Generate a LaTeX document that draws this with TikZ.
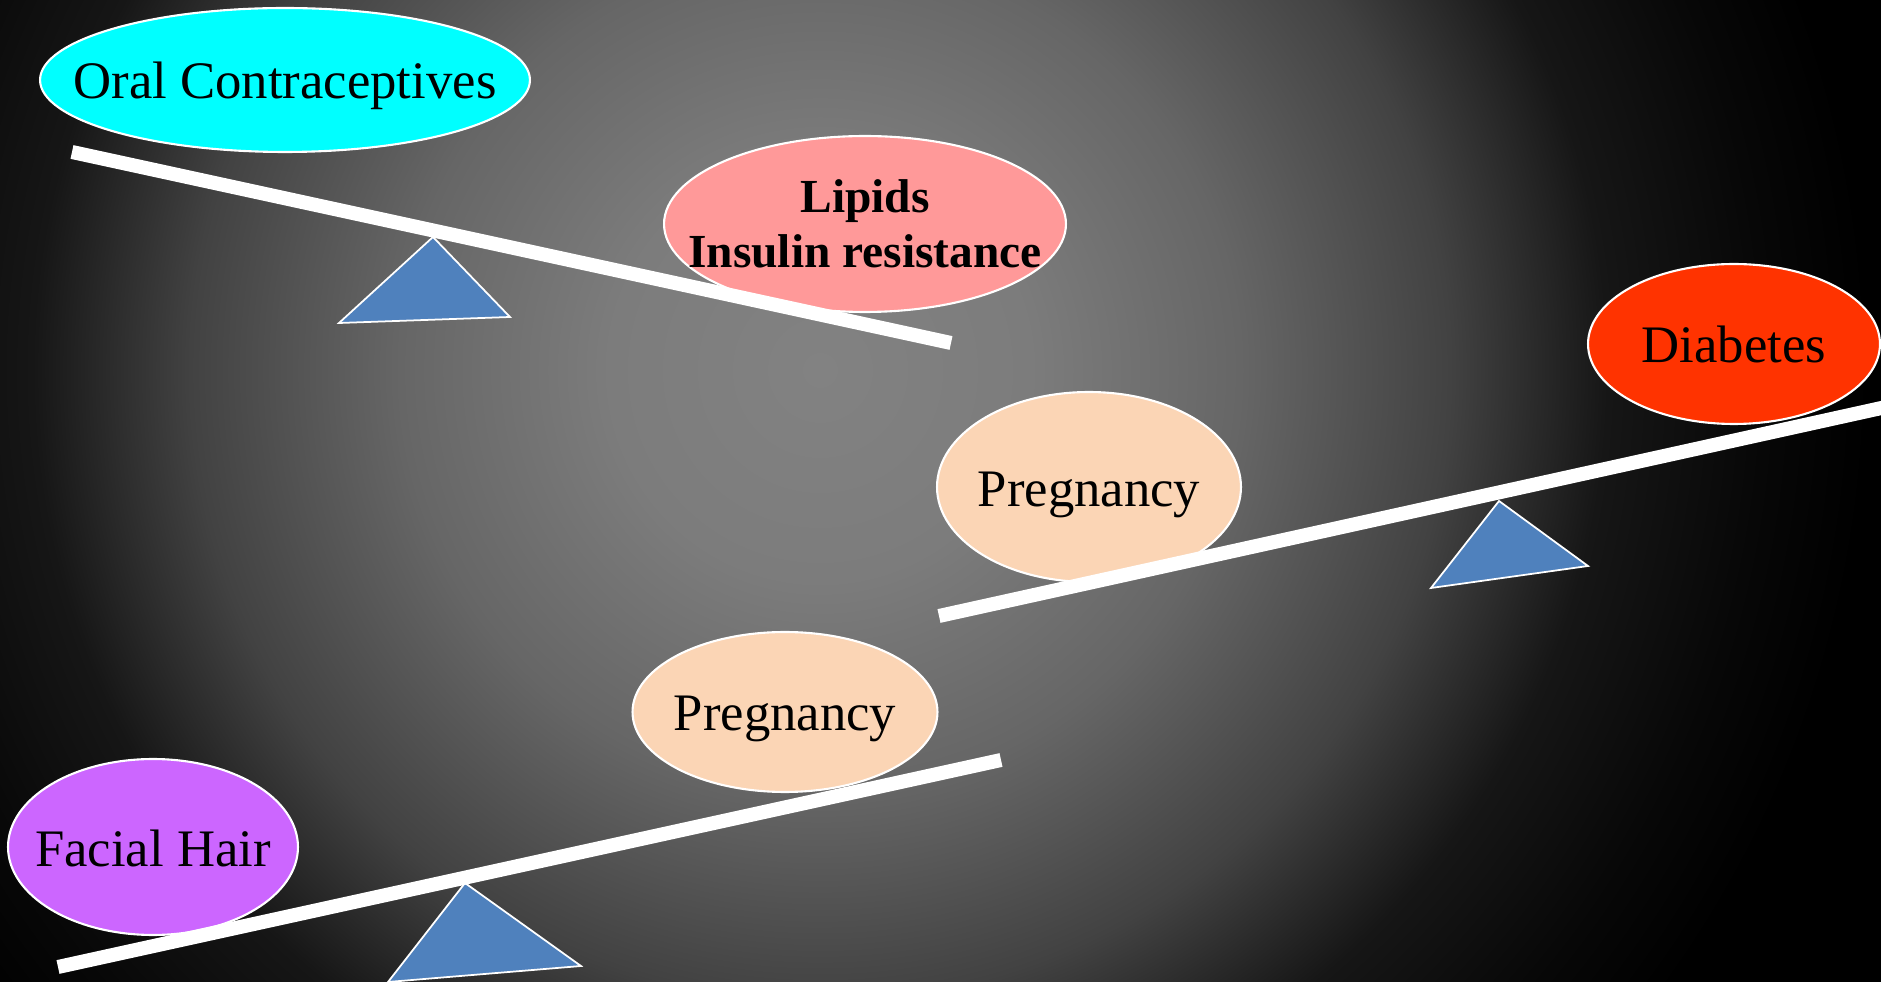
\documentclass[tikz,border=0pt]{standalone}
\usepackage{fontspec}
\setmainfont{Liberation Serif}
\usetikzlibrary{shapes.geometric}
\usetikzlibrary{calc}

\definecolor{bg0}{RGB}{130,130,130}
\definecolor{bg1}{RGB}{124,124,124}
\definecolor{bg2}{RGB}{102,102,102}
\definecolor{bg3}{RGB}{66,66,66}
\definecolor{bg4}{RGB}{22,22,22}
\definecolor{bg5}{RGB}{7,7,7}
\definecolor{bg6}{RGB}{0,0,0}
\definecolor{ocyan}{RGB}{0,255,255}
\definecolor{lpink}{RGB}{255,153,153}
\definecolor{dred}{RGB}{255,51,0}
\definecolor{ppeach}{RGB}{251,213,181}
\definecolor{hpurple}{RGB}{204,102,255}
\definecolor{tblue}{RGB}{79,129,189}

\pgfdeclareradialshading{bgglow}{\pgfpointorigin}{%
    color(0bp)=(bg0); color(5bp)=(bg1); color(10bp)=(bg2);
    color(15bp)=(bg3); color(18.75bp)=(bg4); color(22.5bp)=(bg5);
    color(25bp)=(bg6); color(50bp)=(bg6)}

\tikzset{
    blob/.style={ellipse, draw=white, line width=1.2pt, inner sep=0pt},
    lbl/.style={anchor=base, font=\fontsize{30}{36}\selectfont},
    beam/.style={white, line width=0.28cm},
    pivot/.style={fill=tblue, draw=white, line width=1pt}
}

\begin{document}
\begin{tikzpicture}[x=0.02cm, y=-0.02cm]
        \useasboundingbox (0, 0) rectangle (1881, 982);
        \fill[black] (0, 0) rectangle (1881, 982);
        \begin{scope}
            \clip (0, 0) rectangle (1881, 982);
            \shade[shading=bgglow] (820, 370) circle (1050);
        \end{scope}

        % pivots
        \filldraw[pivot] (433, 237) -- (510, 317) -- (339, 323) -- cycle;
        \filldraw[pivot] (1499, 501) -- (1588, 566) -- (1431, 588) -- cycle;
        \filldraw[pivot] (465, 883) -- (581, 966) -- (388, 982) -- cycle;

        % weights
        \node[blob, fill=ocyan, minimum width=9.8cm, minimum height=2.88cm] (oral) at (285, 80) {};
        \node[blob, fill=lpink, minimum width=8.04cm, minimum height=3.52cm] (lipids) at (865, 224) {};
        \node[blob, fill=dred, minimum width=5.84cm, minimum height=3.2cm] (diab) at (1734, 344) {};
        \node[blob, fill=ppeach, minimum width=6.08cm, minimum height=3.8cm] (preg1) at (1089, 487) {};
        \node[blob, fill=ppeach, minimum width=6.1cm, minimum height=3.2cm] (preg2) at (785, 712) {};
        \node[blob, fill=hpurple, minimum width=5.8cm, minimum height=3.52cm] (hair) at (153, 847) {};

        % beams
        \coordinate (b1l) at (72, 152);
        \coordinate (b1r) at (951, 343);
        \coordinate (b2l) at (939, 616);
        \coordinate (b2r) at (1895, 405);
        \coordinate (b3l) at (58, 967);
        \coordinate (b3r) at (1001, 760);

        \draw[beam] (b1l) -- (b1r);
        \draw[beam] (b2l) -- (b2r);
        \draw[beam] (b3l) -- (b3r);

        % texts
        \node[lbl] (oraltxt) at ($(oral) + (0, 19)$) {Oral Contraceptives};
        \node[font=\bfseries\fontsize{27}{31.5}\selectfont, align=center] (lipidstxt) at (lipids) {Lipids\\Insulin resistance};
        \node[lbl] (diabtxt) at ($(diab) + (0, 19)$) {Diabetes};
        \node[lbl] (preg1txt) at ($(preg1) + (0, 20)$) {Pregnancy};
        \node[lbl] (preg2txt) at ($(preg2) + (0, 19)$) {Pregnancy};
        \node[lbl] (hairtxt) at ($(hair) + (0, 20)$) {Facial Hair};
\end{tikzpicture}
\end{document}
